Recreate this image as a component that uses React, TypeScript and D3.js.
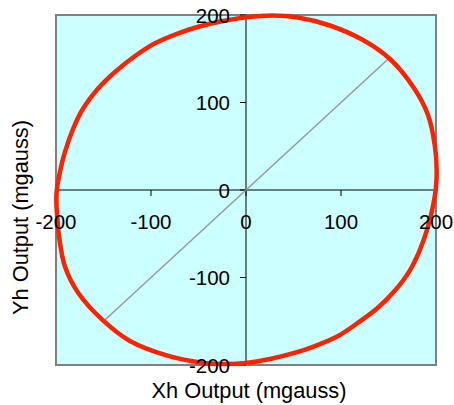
import React from "react";
import * as d3 from "d3";

const W = 454;
const H = 405;

// Red trace (Xh, Yh) in mgauss
const traceX = [-198.4, -199.5, -199.3, -195.8, -190.5, -181.8, -171.3, -155.5, -137.9, -116.8, -95.8, -71.3, -50.2, -29.5, 0.7, 28.4, 54.7, 88.4, 123.2, 151.6, 176.8, 191.6, 198.9, 200.7, 199.9, 196.4, 191.2, 182.4, 171.9, 156.1, 138.5, 117.5, 96.4, 71.9, 50.8, 25.3, 0, -22.1, -48.4, -83.5, -122.1, -150.5, -176.3, -190.5, -196.8];
const traceY = [-34.3, -17.1, -1.9, 20.9, 43.8, 70.5, 93.4, 116.2, 134.9, 153.1, 167.7, 179.1, 186.6, 192, 197.5, 199.4, 197.1, 188, 171.4, 149.7, 116.6, 85.7, 49.7, 22.9, 2.4, -20.5, -43.3, -70.1, -93, -115.8, -134.9, -152, -167.2, -178.6, -186.2, -193.1, -197.7, -198.9, -197.1, -189.1, -172.6, -149.1, -118.1, -87.7, -53.1];

// Gray reference diagonal
const refX = [-150, 150];
const refY = [-150, 150];

const xTicks = [-200, -100, 0, 100, 200];
const yTicks = [-200, -100, 0, 100, 200];

export default function App() {
  const left = 56, right = 436, top = 15, bottom = 365;
  const x = d3.scaleLinear().domain([-200, 200]).range([left, right]);
  const y = d3.scaleLinear().domain([-200, 200]).range([bottom, top]);
  const x0 = x(0);
  const y0 = y(0);

  const pts: [number, number][] = traceX.map((v, i) => [v, traceY[i]]);
  const trace = d3
    .line<[number, number]>()
    .x((d) => x(d[0]))
    .y((d) => y(d[1]))
    .curve(d3.curveCatmullRomClosed)(pts);
  const ref = d3
    .line<[number, number]>()
    .x((d) => x(d[0]))
    .y((d) => y(d[1]))(refX.map((v, i) => [v, refY[i]]));

  const font = "'Liberation Sans', Arial, sans-serif";

  return (
    <svg
      width={W}
      height={H}
      style={{ position: "absolute", left: 0, top: 0, background: "#fff" }}
      fontFamily={font}
    >
      <rect x={left} y={top} width={right - left} height={bottom - top} fill="#CCFFFF" stroke="#808080" strokeWidth={2} />
      <line x1={left} x2={right} y1={y0} y2={y0} stroke="#000" strokeWidth={1} />
      <line x1={x0} x2={x0} y1={top} y2={bottom} stroke="#000" strokeWidth={1} />
      {xTicks.map((t) => (
        <line key={"xt" + t} x1={x(t)} x2={x(t)} y1={y0} y2={y0 + 6} stroke="#000" strokeWidth={1} />
      ))}
      {yTicks.map((t) => (
        <line key={"yt" + t} x1={x0 - 6} x2={x0} y1={y(t)} y2={y(t)} stroke="#000" strokeWidth={1} />
      ))}
      <path d={ref || ""} fill="none" stroke="#999999" strokeWidth={1.5} />
      <path d={trace || ""} fill="none" stroke="#FF2200" strokeWidth={4.5} />
      {xTicks.map((t) => (
        <text key={"xl" + t} x={x(t)} y={y0 + 39} fontSize={20.5} textAnchor="middle" fill="#000">
          {t}
        </text>
      ))}
      {yTicks.map((t) => (
        <text key={"yl" + t} x={x0 - 16} y={y(t) + 7.5} fontSize={20.5} textAnchor="end" fill="#000">
          {t}
        </text>
      ))}
      <text x={249} y={398} fontSize={21.8} textAnchor="middle" fill="#000">
        Xh Output (mgauss)
      </text>
      <text transform={`translate(28,217.5) rotate(-90)`} fontSize={21.8} textAnchor="middle" fill="#000">
        Yh Output (mgauss)
      </text>
    </svg>
  );
}
